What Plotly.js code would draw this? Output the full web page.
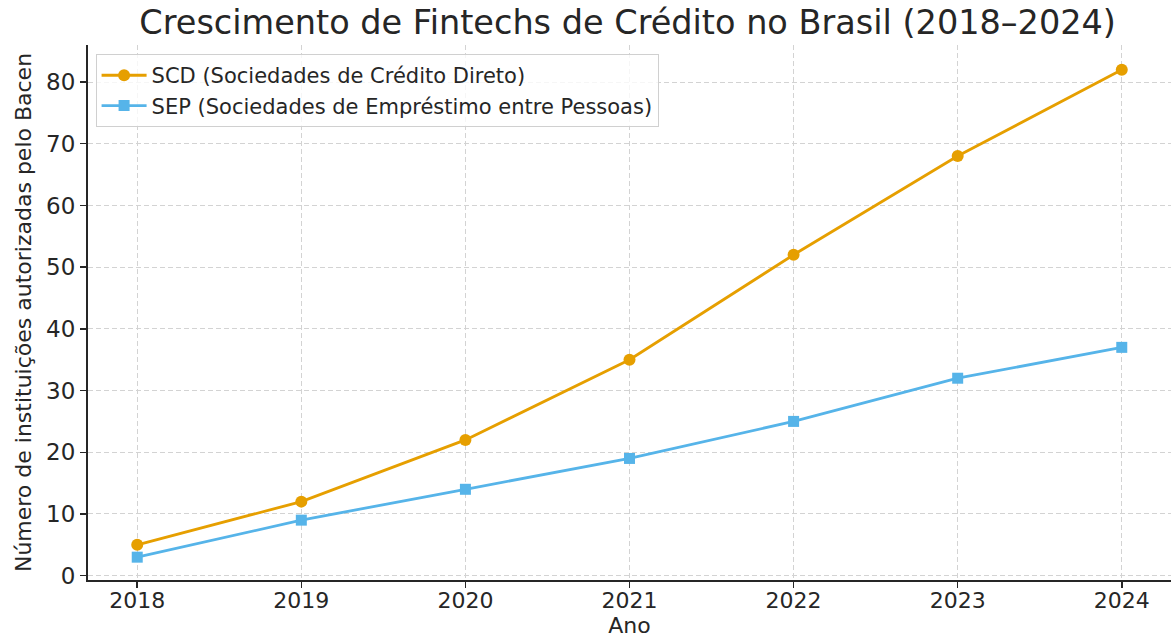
<!DOCTYPE html>
<html>
<head>
<meta charset="utf-8">
<script src="https://cdn.plot.ly/plotly-3.0.1.min.js"></script>
<style>html,body{margin:0;padding:0;background:#fff;}#chart{width:1171px;height:639px;}</style>
</head>
<body>
<div id="chart"></div>
<script>
const years = [2018, 2019, 2020, 2021, 2022, 2023, 2024];
const scd = [5, 12, 22, 35, 52, 68, 82];
const sep = [3, 9, 14, 19, 25, 32, 37];
const scdName = "SCD (Sociedades de Crédito Direto)";
const sepName = "SEP (Sociedades de Empréstimo entre Pessoas)";

const font = "DejaVu Sans, sans-serif";
const traces = [
  {x: years, y: scd, name: scdName, mode: "lines+markers", type: "scatter",
   line: {color: "#E69F00", width: 2.8}, marker: {symbol: "circle", size: 12, color: "#E69F00"}},
  {x: years, y: sep, name: sepName, mode: "lines+markers", type: "scatter",
   line: {color: "#56B4E9", width: 2.8}, marker: {symbol: "square", size: 11, color: "#56B4E9"}}
];
const layout = {
  width: 1171, height: 639,
  margin: {l: 88, r: 0, t: 45, b: 59},
  paper_bgcolor: "#fff", plot_bgcolor: "#fff",
  font: {family: font, color: "#262626"},
  title: {text: "Crescimento de Fintechs de Crédito no Brasil (2018–2024)", font: {size: 33.5, family: font, color: "#262626"}, x: 0.536, xanchor: "center", y: 0.965, yanchor: "middle"},
  xaxis: {
    range: [2017.7, 2024.3], tickmode: "array", tickvals: years, ticktext: years.map(String),
    showgrid: true, gridcolor: "#d3d3d3", griddash: "5px,3px", gridwidth: 1,
    showline: true, linecolor: "#262626", linewidth: 2, mirror: false,
    ticks: "outside", ticklen: 6, tickwidth: 1.5, tickcolor: "#262626",
    tickfont: {size: 22}, zeroline: false, ticklabelstandoff: -6,
    title: {text: "Ano", font: {size: 22}, standoff: 2}
  },
  yaxis: {
    range: [-0.7, 86], dtick: 10, tick0: 0,
    showgrid: true, gridcolor: "#d3d3d3", griddash: "5px,3px", gridwidth: 1,
    showline: true, linecolor: "#262626", linewidth: 2, mirror: false,
    ticks: "outside", ticklen: 6, tickwidth: 1.5, tickcolor: "#262626",
    tickfont: {size: 23}, zeroline: false,
    title: {text: "Número de instituições autorizadas pelo Bacen", font: {size: 22}, standoff: 8}
  },
  legend: {x: 0.007, y: 0.983, xanchor: "left", yanchor: "top",
    bgcolor: "rgba(255,255,255,0.8)", bordercolor: "#d0d0d0", borderwidth: 1,
    font: {size: 21, color: "#262626"}, tracegroupgap: 2, itemwidth: 45},
  showlegend: true
};
Plotly.newPlot("chart", traces, layout, {displayModeBar: false, staticPlot: true});
</script>
</body>
</html>
